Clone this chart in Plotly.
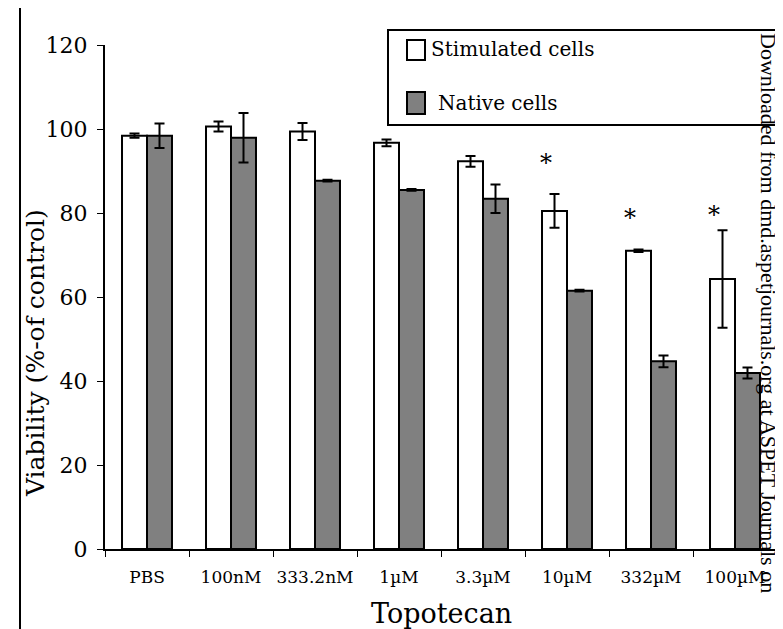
import plotly.graph_objects as go

categories = ["PBS", "100nM", "333.2nM", "1µM", "3.3µM", "10µM", "332µM", "100µM"]
stimulated = [98.4, 100.6, 99.4, 96.7, 92.3, 80.5, 71.0, 64.3]
stimulated_err = [0.5, 1.2, 2.0, 0.8, 1.3, 4.0, 0.3, 11.6]
native = [98.4, 97.9, 87.7, 85.5, 83.4, 61.5, 44.7, 41.9]
native_err = [2.9, 5.9, 0.2, 0.2, 3.4, 0.2, 1.4, 1.3]
star_cats = ["10µM", "332µM", "100µM"]
star_vals = [92.0, 78.8, 79.5]
y_ticks = [0, 20, 40, 60, 80, 100, 120]

FONT = "DejaVu Serif"
WFONT = "Liberation Serif"
W, H = 783, 629
L, R, T, B = 97, 14, 37, 88
PW, PH = W - L - R, H - T - B

def px(x):
    return (x - L) / PW

def py(y):
    return (H - B - y) / PH

fig = go.Figure()
fig.add_trace(go.Bar(
    x=categories, y=stimulated, name="Stimulated cells",
    marker=dict(color="white", line=dict(color="black", width=2)),
    error_y=dict(type="data", array=stimulated_err, color="black", thickness=2, width=5),
    showlegend=False,
))
fig.add_trace(go.Bar(
    x=categories, y=native, name="Native cells",
    marker=dict(color="#808080", line=dict(color="black", width=2)),
    error_y=dict(type="data", array=native_err, color="black", thickness=2, width=5),
    showlegend=False,
))

for c, v in zip(star_cats, star_vals):
    fig.add_annotation(x=c, y=v, xref="x", yref="y", text="*", showarrow=False,
                       xshift=-21, font=dict(family=FONT, size=24, color="black"))

shapes = []
# left page border
shapes.append(dict(type="line", xref="paper", yref="paper", x0=px(12), x1=px(12),
                   y0=py(H), y1=py(0), line=dict(color="black", width=2)))
# legend box
shapes.append(dict(type="rect", xref="paper", yref="paper", x0=px(380), x1=px(773),
                   y0=py(117), y1=py(22), line=dict(color="black", width=2), fillcolor="white"))
shapes.append(dict(type="rect", xref="paper", yref="paper", x0=px(399), x1=px(417),
                   y0=py(52), y1=py(32), line=dict(color="black", width=2), fillcolor="white"))
shapes.append(dict(type="rect", xref="paper", yref="paper", x0=px(399), x1=px(417),
                   y0=py(106), y1=py(84), line=dict(color="black", width=2), fillcolor="#808080"))

fig.add_annotation(x=px(421), y=py(41), xref="paper", yref="paper", text="Stimulated cells",
                   showarrow=False, xanchor="left", yanchor="middle",
                   font=dict(family=FONT, size=20, color="black"))
fig.add_annotation(x=px(428), y=py(95), xref="paper", yref="paper", text="Native cells",
                   showarrow=False, xanchor="left", yanchor="middle",
                   font=dict(family=FONT, size=20, color="black"))

# y title
fig.add_annotation(x=px(27), y=py(345), xref="paper", yref="paper", text="Viability (%-of control)",
                   showarrow=False, textangle=-90, xanchor="center", yanchor="middle",
                   font=dict(family=FONT, size=25, color="black"))
# x title
fig.add_annotation(x=0.5, y=py(605), xref="paper", yref="paper", text="Topotecan",
                   showarrow=False, xanchor="center", yanchor="middle",
                   font=dict(family=FONT, size=27, color="black"))
# side watermark
fig.add_annotation(x=px(761), y=py(305), xref="paper", yref="paper",
                   text="Downloaded from dmd.aspetjournals.org at ASPET Journals on",
                   showarrow=False, textangle=90, xanchor="center", yanchor="middle",
                   font=dict(family=WFONT, size=22, color="black"))

fig.update_layout(
    width=W, height=H,
    margin=dict(l=L, r=R, t=T, b=B, pad=0),
    paper_bgcolor="white", plot_bgcolor="white",
    barmode="group", bargap=0.405, bargroupgap=0,
    shapes=shapes,
    font=dict(family=FONT, color="black"),
)
fig.update_xaxes(
    type="category", showline=True, linecolor="black", linewidth=2,
    ticks="outside", tickson="boundaries", ticklen=6, tickcolor="black", tickwidth=1,
    tickfont=dict(family=FONT, size=17, color="black"), ticklabelstandoff=12,
    tickangle=0, showgrid=False, zeroline=False,
)
fig.update_yaxes(
    range=[0, 120], tickvals=y_ticks, showline=True, linecolor="black", linewidth=2,
    ticks="outside", ticklen=6, tickcolor="black", tickwidth=1,
    tickfont=dict(family=FONT, size=22, color="black"), ticklabelstandoff=5,
    showgrid=False, zeroline=False,
)

fig.write_html("out.html")
